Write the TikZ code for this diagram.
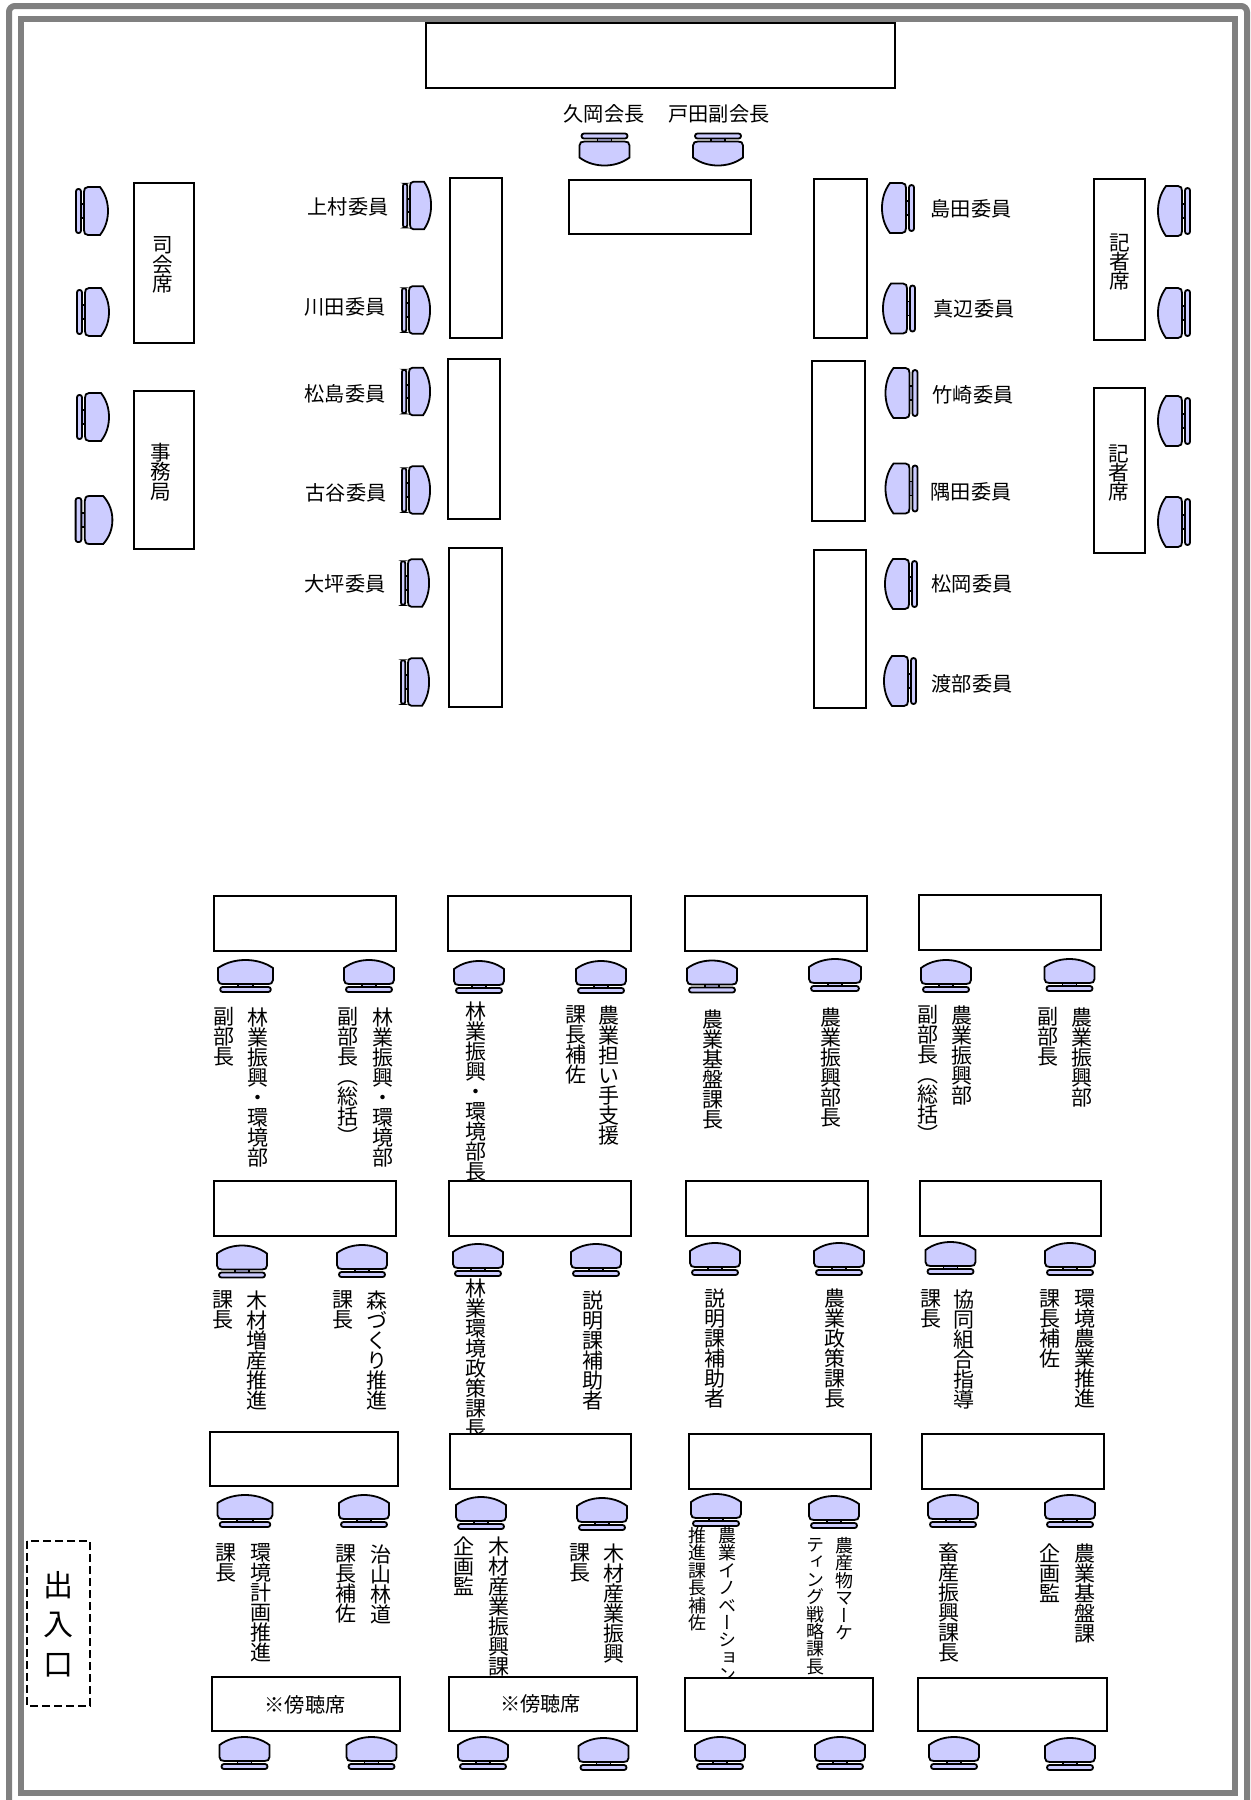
\documentclass[tikz,border=0pt]{standalone}
\usepackage{fontspec}
\setmainfont{Noto Sans CJK JP}
\newfontfamily\tatefont[RawFeature=+vert]{Noto Sans CJK JP}
\definecolor{framegray}{HTML}{808080}
\definecolor{seatblue}{HTML}{CCCCFF}
\tikzset{
  desk/.style={draw=black,fill=white,line width=1pt},
  nameline/.style={inner sep=0pt,font=\fontsize{10.1}{12}\selectfont},
  tate/.style={anchor=north,align=center,inner sep=0pt,font={\tatefont\fontsize{10.5}{10}\selectfont\lineskiplimit=-10pt}},
  tatesmall/.style={tate,font={\tatefont\fontsize{9}{8.7}\selectfont\lineskiplimit=-10pt}},
  deskname/.style={anchor=center,align=center,inner sep=0pt,font={\tatefont\fontsize{10.3}{9.7}\selectfont\lineskiplimit=-10pt}},
  narrow/.style={xscale=.95,yscale=.88},
  chair/.pic={
    \draw[fill=seatblue,line width=.9pt] (-7,8) rectangle (7,11);
    \draw[fill=seatblue,line width=.9pt] (-25,-8) .. controls (-17,-14) and (-8,-16) .. (0,-16) .. controls (8,-16) and (17,-14) .. (25,-8) -- (25,4) .. controls (25,7) and (23,8) .. (20,8) -- (-20,8) .. controls (-23,8) and (-25,7) .. (-25,4) -- cycle;
    \draw[fill=seatblue,line width=.9pt,rounded corners=1.2pt] (-23,11) rectangle (23,16);
  }
}

\begin{document}
\begin{tikzpicture}[x=.5pt,y=-.5pt]
    \clip (0,0) rectangle (1250,1800);
    \fill[white] (0,0) rectangle (1250,1800);
    \draw[framegray,line width=3pt,rounded corners=3pt] (9,1810) -- (9,6) -- (1247,6) -- (1247,1810);
    \draw[framegray,line width=3pt] (21,18.5) rectangle (1234.5,1792.5);

    \pic at (604.5,149.5) [rotate=180] {chair};
    \pic at (718,149.5) [rotate=180] {chair};
    \pic at (92,211) [rotate=-90,xscale=.96] {chair};
    \pic at (93,312) [rotate=-90,xscale=.96] {chair};
    \pic at (93,417) [rotate=-90,xscale=.96] {chair};
    \pic at (94,520) [rotate=-90,xscale=.96,yscale=1.15] {chair};
    \pic at (417,205.5) [rotate=-90,narrow] {chair};
    \pic at (416,310) [rotate=-90,narrow] {chair};
    \pic at (416,391.5) [rotate=-90,narrow] {chair};
    \pic at (416,490) [rotate=-90,narrow] {chair};
    \pic at (415,583) [rotate=-90,narrow] {chair};
    \pic at (415,682) [rotate=-90,narrow] {chair};
    \pic at (898,208) [rotate=90] {chair};
    \pic at (899,308.5) [rotate=90] {chair};
    \pic at (901.5,393) [rotate=90] {chair};
    \pic at (901.5,488.5) [rotate=90] {chair};
    \pic at (901,584) [rotate=90] {chair};
    \pic at (900,681) [rotate=90] {chair};
    \pic at (1174,211) [rotate=90] {chair};
    \pic at (1174,313) [rotate=90] {chair};
    \pic at (1174,421) [rotate=90] {chair};
    \pic at (1174,522) [rotate=90] {chair};

    \pic at (245.5,976) [xscale=1.1] {chair};
    \pic at (369,976) {chair};
    \pic at (479,977) {chair};
    \pic at (601,977) {chair};
    \pic at (712,976.5) {chair};
    \pic at (835,975) [xscale=1.04] {chair};
    \pic at (946,976) {chair};
    \pic at (1069.5,975) {chair};
    \pic at (242,1261.5) {chair};
    \pic at (362,1261) {chair};
    \pic at (478,1260) {chair};
    \pic at (596,1260) {chair};
    \pic at (715,1259) {chair};
    \pic at (839,1259) {chair};
    \pic at (950.5,1258) {chair};
    \pic at (1070,1259) {chair};
    \pic at (245,1511) [xscale=1.1] {chair};
    \pic at (364,1511) {chair};
    \pic at (481,1513) {chair};
    \pic at (602,1514) {chair};
    \pic at (716,1510) {chair};
    \pic at (834,1512) {chair};
    \pic at (953,1511) {chair};
    \pic at (1070,1511) {chair};
    \pic at (244.5,1753) {chair};
    \pic at (371.5,1753) {chair};
    \pic at (483,1753) {chair};
    \pic at (603.5,1754) {chair};
    \pic at (720,1753) {chair};
    \pic at (840,1753) {chair};
    \pic at (954,1753) {chair};
    \pic at (1070,1754) {chair};

    \node[nameline] (kuoka) at (604,114) {久岡会長};
    \node[nameline] (toda) at (719,114) {戸田副会長};
    \node[nameline] (uemura) at (348,207) {上村委員};
    \node[nameline] (kawada) at (345,307) {川田委員};
    \node[nameline] (matsushima) at (345,394) {松島委員};
    \node[nameline] (furuya) at (346,493) {古谷委員};
    \node[nameline] (otsubo) at (345,584) {大坪委員};
    \node[nameline] (shimada) at (971,209) {島田委員};
    \node[nameline] (manabe) at (974,309) {真辺委員};
    \node[nameline] (takezaki) at (973,395) {竹崎委員};
    \node[nameline] (sumita) at (971,492) {隅田委員};
    \node[nameline] (matsuoka) at (972,584) {松岡委員};
    \node[nameline] (watanabe) at (972,684) {渡部委員};

    \node[tate] (a1) at (224,1007) {副\\部\\長};
    \node[tate] (a2) at (258,1007) {林\\業\\振\\興\\・\\環\\境\\部};
    \node[tate] (a3) at (348,1007) {副\\部\\長\\（\\総\\括\\）};
    \node[tate] (a4) at (383,1007) {林\\業\\振\\興\\・\\環\\境\\部};
    \node[tate] (a5) at (476,1001) {林\\業\\振\\興\\・\\環\\境\\部\\長};
    \node[tate] (a6) at (576,1005) {課\\長\\補\\佐};
    \node[tate] (a7) at (609,1005) {農\\業\\担\\い\\手\\支\\援};
    \node[tate] (a8) at (713,1009) {農\\業\\基\\盤\\課\\長};
    \node[tate] (a9) at (831,1007) {農\\業\\振\\興\\部\\長};
    \node[tate] (a10) at (928,1005) {副\\部\\長\\（\\総\\括\\）};
    \node[tate] (a11) at (962,1005) {農\\業\\振\\興\\部};
    \node[tate] (a12) at (1048,1007) {副\\部\\長};
    \node[tate] (a13) at (1082,1007) {農\\業\\振\\興\\部};

    \node[tate] (b1) at (223,1290) {課\\長};
    \node[tate] (b2) at (257,1290) {木\\材\\増\\産\\推\\進};
    \node[tate] (b3) at (343,1290) {課\\長};
    \node[tate] (b4) at (377,1290) {森\\づ\\く\\り\\推\\進};
    \node[tate] (b5) at (476,1278) {林\\業\\環\\境\\政\\策\\課\\長};
    \node[tate] (b6) at (593,1290) {説\\明\\課\\補\\助\\者};
    \node[tate] (b7) at (715,1288) {説\\明\\課\\補\\助\\者};
    \node[tate] (b8) at (835,1288) {農\\業\\政\\策\\課\\長};
    \node[tate] (b9) at (931,1289) {課\\長};
    \node[tate] (b10) at (964,1289) {協\\同\\組\\合\\指\\導};
    \node[tate] (b11) at (1050,1289) {課\\長\\補\\佐};
    \node[tate] (b12) at (1085,1289) {環\\境\\農\\業\\推\\進};

    \node[tate] (c1) at (226,1543) {課\\長};
    \node[tate] (c2) at (261,1543) {環\\境\\計\\画\\推\\進};
    \node[tate] (c3) at (346,1544) {課\\長\\補\\佐};
    \node[tate] (c4) at (380.5,1544) {治\\山\\林\\道};
    \node[tate] (c5) at (464,1536) {企\\画\\監};
    \node[tate] (c6) at (499,1536) {木\\材\\産\\業\\振\\興\\課};
    \node[tate] (c7) at (579.5,1543) {課\\長};
    \node[tate] (c8) at (613.6,1543) {木\\材\\産\\業\\振\\興};
    \node[tatesmall] (c9) at (697,1527) {推\\進\\課\\長\\補\\佐};
    \node[tatesmall] (c10) at (727,1527) {農\\業\\イ\\ノ\\ベ\\ー\\シ\\ョ\\ン};
    \node[tatesmall] (c11) at (815,1538) {テ\\ィ\\ン\\グ\\戦\\略\\課\\長};
    \node[tatesmall] (c12) at (844,1537) {農\\産\\物\\マ\\ー\\ケ};
    \node[tate] (c13) at (949,1542) {畜\\産\\振\\興\\課\\長};
    \node[tate] (c14) at (1050,1543) {企\\画\\監};
    \node[tate] (c15) at (1085,1543) {農\\業\\基\\盤\\課};

    \draw[desk] (425.5,23) rectangle (895,88);
    \draw[desk] (569,180) rectangle (751,234);
    \draw[desk] (133.5,183) rectangle (194,343);
    \draw[desk] (133.5,391) rectangle (194,549);
    \draw[desk] (449.5,178) rectangle (502,338);
    \draw[desk] (448,359) rectangle (500,519);
    \draw[desk] (449,548) rectangle (502,707);
    \draw[desk] (814,179) rectangle (867,338);
    \draw[desk] (812,361) rectangle (865,521);
    \draw[desk] (814,550) rectangle (866,708);
    \draw[desk] (1094,179) rectangle (1145,340);
    \draw[desk] (1094,388) rectangle (1145,553);

    \draw[desk] (214,896) rectangle (396,951);
    \draw[desk] (448,896) rectangle (631,951);
    \draw[desk] (685,896) rectangle (867,951);
    \draw[desk] (919,895) rectangle (1101,950);
    \draw[desk] (214,1181) rectangle (396,1236);
    \draw[desk] (449,1181) rectangle (631,1236);
    \draw[desk] (685.5,1181) rectangle (868,1236);
    \draw[desk] (919.5,1181) rectangle (1101,1236);
    \draw[desk] (209.5,1432) rectangle (398,1486);
    \draw[desk] (449.5,1434) rectangle (631,1489);
    \draw[desk] (689,1434) rectangle (871,1489);
    \draw[desk] (922,1434) rectangle (1104,1489);
    \draw[desk] (212,1677) rectangle (400,1731);
    \draw[desk] (448.5,1677) rectangle (637,1731);
    \draw[desk] (685,1678) rectangle (873,1731);
    \draw[desk] (918,1678) rectangle (1107,1731);

    \node[deskname] (shikai) at (163,265) {司\\会\\席};
    \node[deskname] (jimu) at (161,472) {事\\務\\局};
    \node[deskname] (kisha1) at (1120,262) {記\\者\\席};
    \node[deskname] (kisha2) at (1119,473) {記\\者\\席};
    \node[nameline] (bocho1) at (305,1705) {※傍聴席};
    \node[nameline] (bocho2) at (540.5,1704) {※傍聴席};

    \draw[line width=1.2pt,dash pattern=on 4pt off 2pt] (27,1541) rectangle (90,1706);
    \node[anchor=center,align=center,inner sep=0pt,font=\fontsize{15}{19.7}\selectfont] (deiriguchi) at (58,1624) {出\\入\\口};
\end{tikzpicture}
\end{document}
